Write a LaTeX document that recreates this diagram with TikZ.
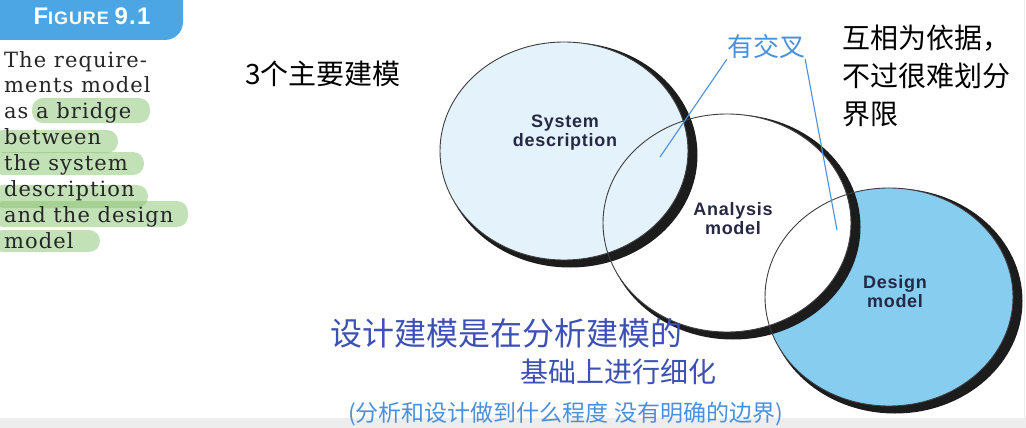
\documentclass[tikz,border=0pt]{standalone}
\usepackage{fontspec}
\newfontfamily\cjkfont{Noto Sans CJK SC}
\newfontfamily\capfont[LetterSpace=5]{DejaVu Serif}
\newfontfamily\figfont[LetterSpace=5]{Liberation Sans}
\newfontfamily\labelfont[LetterSpace=4]{Liberation Sans}
\usetikzlibrary{positioning}

\definecolor{sysblue}{HTML}{E4F2FC}
\definecolor{desblue}{HTML}{86CDF0}
\definecolor{figblue}{HTML}{4CA6E3}
\definecolor{marker}{HTML}{89C571}
\definecolor{inkdark}{HTML}{3D50B4}
\definecolor{inklight}{HTML}{4A90DC}
\definecolor{labelnavy}{HTML}{262844}
\definecolor{captext}{HTML}{262626}
\definecolor{rim}{HTML}{1C1C1C}

\begin{document}
\begin{tikzpicture}[
    x=1pt, y=-1pt,
    every node/.style={inner sep=0pt},
    model/.style={font=\labelfont\bfseries\fontsize{18}{19}\selectfont, text=labelnavy, align=center},
    capline/.style={font=\capfont\fontsize{21}{22}\selectfont, text=captext, anchor=base west},
    hilite/.style={marker, opacity=0.5, rounded corners=11pt},
    note/.style={font=\cjkfont\fontsize{28}{38}\selectfont, align=left},
    ink/.style={font=\cjkfont\fontsize{#1}{#1}\selectfont},
    pointer/.style={inklight, line width=1.1pt},
    rimline/.style={draw=rim!85, line width=0.9pt}
]
\useasboundingbox (0,0) rectangle (1026,428);
\fill[white] (0,0) rectangle (1026,428);

% ============ FIGURE HEADER ============
\fill[figblue, rounded corners=18pt] (-20,-20) rectangle (183,40);
\node[text=white, font=\figfont\bfseries] (fig) at (92,16)
    {\fontsize{24}{24}\selectfont F\fontsize{18}{18}\selectfont IGURE \fontsize{24}{24}\selectfont 9.1};

% highlighter strokes
\fill[hilite] (32,98) rectangle (150,123);
\fill[hilite] (-8,130) rectangle (118,153);
\fill[hilite] (-8,152) rectangle (144,175);
\fill[hilite] (-8,185) rectangle (148,208);
\fill[hilite] (-8,201) rectangle (188,227);
\fill[hilite] (-8,230) rectangle (100,252);

% caption
\node[capline] (cap1) at (4,67) {The require-};
\node[capline] (cap2) at (4,92.9) {ments model};
\node[capline] (cap3) at (4,118.8) {as a bridge};
\node[capline] (cap4) at (4,144.7) {between};
\node[capline] (cap5) at (4,170.6) {the system};
\node[capline] (cap6) at (4,196.5) {description};
\node[capline] (cap7) at (4,222.4) {and the design};
\node[capline] (cap8) at (4,248.3) {model};

% ============ THREE MODELS ============
% rims first, each fill covers the one before
\fill[rim] (895,301) ellipse [x radius=127.5pt, y radius=112.5pt];
\fill[desblue] (889,297) ellipse [x radius=124pt, y radius=109pt];
\fill[rim] (733,227) ellipse [x radius=127.5pt, y radius=112.5pt];
\fill[white] (727,223) ellipse [x radius=124pt, y radius=109pt];
\fill[rim] (570,155) ellipse [x radius=127.5pt, y radius=112.5pt];
\fill[sysblue] (564,151) ellipse [x radius=124pt, y radius=109pt];

% thin outlines on top
\draw[rimline] (889,297) ellipse [x radius=124pt, y radius=109pt];
\draw[rimline] (727,223) ellipse [x radius=124pt, y radius=109pt];
\draw[rimline] (564,151) ellipse [x radius=124pt, y radius=109pt];

\node[model] (sys) at (565,133) {System\\description};
\node[model] (ana) at (733,219) {Analysis\\model};
\node[model] (des) at (895,292) {Design\\model};

% ============ NOTES ============
\node[note, anchor=west] (three) at (245,74) {3个主要建模};
\node[note, anchor=north west] (basis) at (842,25) {互相为依据，\\不过很难划分\\界限};

\node[ink=26, text=inklight] (cross) at (766,47) {有交叉};
\coordinate (ovlSA) at (660,157);
\coordinate (ovlAD) at (837,230);
\draw[pointer] (cross.south west) -- (ovlSA);
\draw[pointer] (cross.south east) -- (ovlAD);

% bottom strip of the screenshot
\fill[black!7] (0,418) rectangle (1026,428);
\draw[black!8] (1024,0) -- (1024,418);

\node[ink=32, text=inkdark, anchor=west] (hw1) at (330,333) {设计建模是在分析建模的};
\node[ink=28, text=inkdark, anchor=west] (hw2) at (520,372) {基础上进行细化};
\node[ink=23, text=inklight, anchor=west] (hw3) at (348,414) {(分析和设计做到什么程度 没有明确的边界)};

\end{tikzpicture}
\end{document}
